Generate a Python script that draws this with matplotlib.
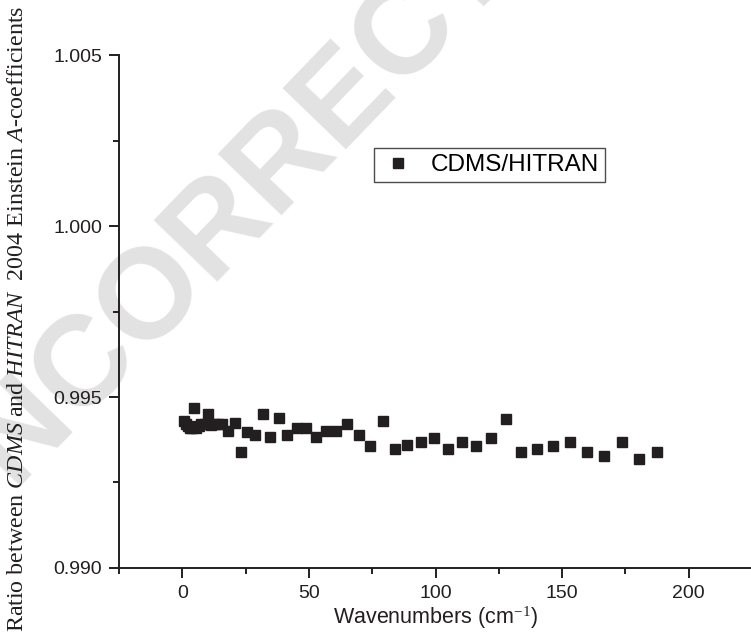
import matplotlib.pyplot as plt
from matplotlib.ticker import MultipleLocator

plt.rcParams['mathtext.fontset'] = 'custom'
plt.rcParams['mathtext.rm'] = 'Liberation Serif'
plt.rcParams['mathtext.it'] = 'Liberation Serif:italic'

# --- Data ---
wavenumbers = [0.8, 1.5, 2.3, 3.2, 4.0, 4.5, 5.5, 6.5, 7.5, 9.0, 10.1, 11.2, 12.5,
               14.0, 15.5, 18.1, 20.8, 23.2, 25.7, 28.8, 31.7, 34.8, 38.1, 41.5,
               45.2, 48.8, 52.8, 56.8, 60.8, 65.2, 69.7, 74.3, 79.1, 83.9, 88.8,
               94.1, 99.5, 104.8, 110.4, 116.1, 121.9, 127.9, 133.8, 140.1, 146.5,
               153.1, 159.7, 166.5, 173.5, 180.4, 187.6]
ratio = [0.99430, 0.99420, 0.99415, 0.99410, 0.99410, 0.99469, 0.99410, 0.99415,
         0.99420, 0.99420, 0.99450, 0.99418, 0.99420, 0.99420, 0.99420, 0.99401,
         0.99425, 0.99340, 0.99399, 0.99389, 0.99450, 0.99382, 0.99438, 0.99389,
         0.99409, 0.99409, 0.99382, 0.99401, 0.99401, 0.99422, 0.99389, 0.99358,
         0.99430, 0.99348, 0.99360, 0.99369, 0.99379, 0.99348, 0.99369, 0.99357,
         0.99379, 0.99437, 0.99338, 0.99348, 0.99357, 0.99369, 0.99338, 0.99328,
         0.99369, 0.99318, 0.99338]

SANS = ['Liberation Sans', 'DejaVu Sans']
SERIF = ['Liberation Serif', 'DejaVu Serif']
INK = '#231f20'

fig = plt.figure(figsize=(7.51, 6.42), dpi=100)

# --- Watermark (behind everything) ---
fig.text(-0.065, 0.13, "UNCORRECTED PROOF", rotation=46, fontsize=92,
         fontweight='bold', family=SANS, color='#e2e2e2', ha='left',
         va='baseline', rotation_mode='anchor', zorder=-5)

ax = fig.add_axes([0.1585, 0.1153, 0.8415, 0.7989])
ax.patch.set_alpha(0)

ax.plot(wavenumbers, ratio, linestyle='none', marker='s', markersize=7.3,
        color=INK, label='CDMS/HITRAN')

ax.set_xlim(-25, 224.6)
ax.set_ylim(0.990, 1.005)
ax.xaxis.set_major_locator(MultipleLocator(50))
ax.xaxis.set_minor_locator(MultipleLocator(25))
ax.yaxis.set_major_locator(MultipleLocator(0.005))
ax.yaxis.set_minor_locator(MultipleLocator(0.0025))
ax.yaxis.set_major_formatter(plt.FormatStrFormatter('%.3f'))

for s in ['top', 'right']:
    ax.spines[s].set_visible(False)
for s in ['left', 'bottom']:
    ax.spines[s].set_linewidth(1.4)
    ax.spines[s].set_color(INK)

ax.tick_params(which='major', direction='out', length=7.5, width=1.4, color=INK,
               labelsize=14, pad=4.5)
ax.tick_params(which='minor', direction='out', length=4, width=1.4, color=INK)
for lbl in ax.get_xticklabels() + ax.get_yticklabels():
    lbl.set_family(SANS)
    lbl.set_color(INK)

ax.set_xlabel('Wavenumbers (cm$^{-1}$)', family=SANS, fontsize=15.5, color=INK,
              labelpad=2)
fig.text(0.0235, 0.503,
         r'Ratio between $\it{CDMS}$ and $\it{HITRAN}$  2004 Einstein $\it{A}$-coefficients',
         rotation=90, ha='center', va='center', family=SERIF, fontsize=17.3,
         color=INK)

leg = ax.legend(loc='upper left', bbox_to_anchor=(0.4035, 0.819), borderaxespad=0,
                frameon=True, fancybox=False, edgecolor=INK,
                prop={'family': SANS, 'size': 17.5}, handlelength=1.5,
                handletextpad=0.6, borderpad=0.25)
leg.get_frame().set_linewidth(1.0)

fig.savefig('out.png', dpi=100)
